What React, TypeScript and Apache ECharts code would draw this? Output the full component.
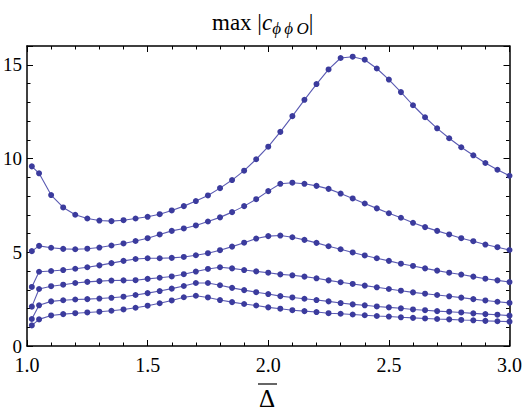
import React, { useEffect, useRef } from "react";
import * as echarts from "echarts";

// Δ̄ sample points
const deltaValues = [
  1.02, 1.05, 1.1, 1.15, 1.2, 1.25, 1.3, 1.35, 1.4, 1.45, 1.5, 1.55, 1.6, 1.65,
  1.7, 1.75, 1.8, 1.85, 1.9, 1.95, 2.0, 2.05, 2.1, 2.15, 2.2, 2.25, 2.3, 2.35,
  2.4, 2.45, 2.5, 2.55, 2.6, 2.65, 2.7, 2.75, 2.8, 2.85, 2.9, 2.95, 3.0,
];

const curve1 = [
  9.58, 9.21, 8.05, 7.39, 7.0, 6.8, 6.69, 6.66, 6.71, 6.8, 6.89, 7.03, 7.23, 7.46,
  7.73, 8.03, 8.42, 8.85, 9.35, 9.96, 10.63, 11.42, 12.26, 13.13, 13.97, 14.75,
  15.36, 15.43, 15.27, 14.8, 14.21, 13.54, 12.84, 12.2, 11.61, 11.08, 10.6, 10.17,
  9.76, 9.4, 9.08,
];
const curve2 = [
  5.06, 5.34, 5.24, 5.18, 5.16, 5.19, 5.25, 5.36, 5.47, 5.6, 5.75, 5.95, 6.14, 6.27,
  6.43, 6.64, 6.86, 7.14, 7.46, 7.83, 8.26, 8.65, 8.71, 8.65, 8.54, 8.38, 8.13,
  7.87, 7.6, 7.34, 7.08, 6.84, 6.57, 6.34, 6.14, 5.95, 5.75, 5.59, 5.41, 5.27, 5.12,
];
const curve3 = [
  3.15, 3.96, 4.0, 4.05, 4.12, 4.2, 4.3, 4.42, 4.54, 4.64, 4.68, 4.68, 4.7, 4.75,
  4.84, 4.95, 5.11, 5.3, 5.51, 5.73, 5.86, 5.89, 5.8, 5.66, 5.5, 5.32, 5.16, 4.99,
  4.83, 4.68, 4.54, 4.39, 4.27, 4.14, 4.02, 3.91, 3.81, 3.7, 3.59, 3.5, 3.41,
];
const curve4 = [
  2.1, 3.04, 3.19, 3.27, 3.36, 3.42, 3.46, 3.49, 3.5, 3.51, 3.58, 3.64, 3.71, 3.83,
  3.97, 4.11, 4.2, 4.14, 4.05, 3.98, 3.91, 3.82, 3.77, 3.7, 3.61, 3.5, 3.4, 3.31,
  3.22, 3.13, 3.04, 2.95, 2.86, 2.79, 2.72, 2.65, 2.58, 2.5, 2.43, 2.36, 2.3,
];
const curve5 = [
  1.44, 2.17, 2.38, 2.44, 2.48, 2.5, 2.53, 2.57, 2.63, 2.72, 2.82, 2.93, 3.06, 3.2,
  3.36, 3.36, 3.24, 3.1, 2.98, 2.87, 2.77, 2.66, 2.59, 2.52, 2.45, 2.38, 2.29,
  2.22, 2.17, 2.11, 2.06, 2.01, 1.95, 1.91, 1.86, 1.83, 1.79, 1.74, 1.7, 1.67, 1.62,
];
const curve6 = [
  1.1, 1.42, 1.63, 1.7, 1.75, 1.79, 1.83, 1.88, 1.95, 2.04, 2.15, 2.28, 2.43, 2.6,
  2.68, 2.59, 2.45, 2.34, 2.24, 2.16, 2.06, 1.99, 1.91, 1.86, 1.81, 1.75, 1.72,
  1.68, 1.64, 1.6, 1.57, 1.53, 1.5, 1.47, 1.44, 1.42, 1.39, 1.37, 1.34, 1.32, 1.3,
];

const curves = [curve1, curve2, curve3, curve4, curve5, curve6];

const xTickValues = [1.0, 1.5, 2.0, 2.5, 3.0];
const yTickValues = [0, 5, 10, 15];

const FONT = "Liberation Serif, Times New Roman, DejaVu Serif, serif";
const LINE_COLOR = "#5a5ab2";
const DOT_COLOR = "#3b3b9d";

export default function App() {
  const ref = useRef<HTMLDivElement>(null);

  useEffect(() => {
    document.body.style.margin = "0";
    if (!ref.current) return;
    const chart = echarts.init(ref.current, null, { renderer: "svg" });

    const frameLine = { show: true, onZero: false, lineStyle: { color: "#000", width: 1.5 } };

    const xBase = (pos: "bottom" | "top", showLabel: boolean) => ({
      type: "value" as const,
      min: xTickValues[0],
      max: xTickValues[xTickValues.length - 1],
      interval: 0.5,
      position: pos,
      axisLine: frameLine,
      axisTick: { show: true, inside: true, length: 6, lineStyle: { color: "#000", width: 1 } },
      minorTick: { show: true, splitNumber: 5, length: 3.5, lineStyle: { color: "#000", width: 1 } },
      splitLine: { show: false },
      minorSplitLine: { show: false },
      axisLabel: {
        show: showLabel,
        formatter: (v: number) => (xTickValues.includes(v) ? v.toFixed(1) : ""),
        fontFamily: FONT,
        fontSize: 20,
        color: "#000",
        margin: 9,
      },
    });

    const yBase = (
      pos: "left" | "right",
      interval: number,
      tickLen: number,
      showLabel: boolean,
      showLine: boolean
    ) => ({
      type: "value" as const,
      min: 0,
      max: 16,
      interval,
      position: pos,
      axisLine: showLine ? frameLine : { show: false, onZero: false },
      axisTick: { show: true, inside: true, length: tickLen, lineStyle: { color: "#000", width: 1 } },
      splitLine: { show: false },
      axisLabel: {
        show: showLabel,
        formatter: (v: number) => (yTickValues.includes(v) ? String(v) : ""),
        fontFamily: FONT,
        fontSize: 19,
        lineHeight: 18,
        color: "#000",
        margin: 5,
      },
    });

    chart.setOption({
      animation: false,
      backgroundColor: "#fff",
      textStyle: { fontFamily: FONT },
      title: {
        text: "{n|max |}{i|c}{s|ϕ\u2009ϕ\u2009O}{n||}",
        left: 207,
        top: 2,
        textStyle: {
          fontFamily: FONT,
          fontSize: 23,
          fontWeight: "normal",
          color: "#000",
          rich: {
            n: { fontSize: 23, fontFamily: FONT, fontWeight: "normal", color: "#000", lineHeight: 30 },
            i: {
              fontSize: 23,
              fontFamily: FONT,
              fontWeight: "normal",
              fontStyle: "italic",
              color: "#000",
              lineHeight: 30,
            },
            s: {
              fontSize: 17,
              fontFamily: FONT,
              fontWeight: "normal",
              fontStyle: "italic",
              color: "#000",
              lineHeight: 16,
              verticalAlign: "bottom",
            },
          },
        },
      },
      grid: { left: 26, right: 13, top: 46, bottom: 69, containLabel: false },
      xAxis: [xBase("bottom", true), xBase("top", false)],
      yAxis: [
        yBase("left", 1, 3.5, true, true),
        yBase("left", 5, 6, false, false),
        yBase("right", 1, 3.5, false, true),
        yBase("right", 5, 6, false, false),
      ],
      series: curves.map((c) => ({
        type: "line",
        xAxisIndex: 0,
        yAxisIndex: 0,
        data: deltaValues.map((d, i) => [d, c[i]]),
        symbol: "circle",
        symbolSize: 6,
        showSymbol: true,
        smooth: false,
        lineStyle: { color: LINE_COLOR, width: 1.1 },
        itemStyle: { color: DOT_COLOR, borderWidth: 0 },
        emphasis: { disabled: true },
        silent: true,
      })),
      graphic: [
        {
          type: "text",
          x: 267,
          y: 398,
          style: {
            text: "Δ",
            align: "center",
            verticalAlign: "middle",
            fontSize: 25,
            fontFamily: FONT,
            fill: "#000",
          },
        },
        {
          type: "line",
          shape: { x1: 258, y1: 384, x2: 277, y2: 384 },
          style: { stroke: "#000", lineWidth: 1.2 },
        },
      ],
    });

    return () => chart.dispose();
  }, []);

  return <div ref={ref} style={{ width: 525, height: 415 }} />;
}
